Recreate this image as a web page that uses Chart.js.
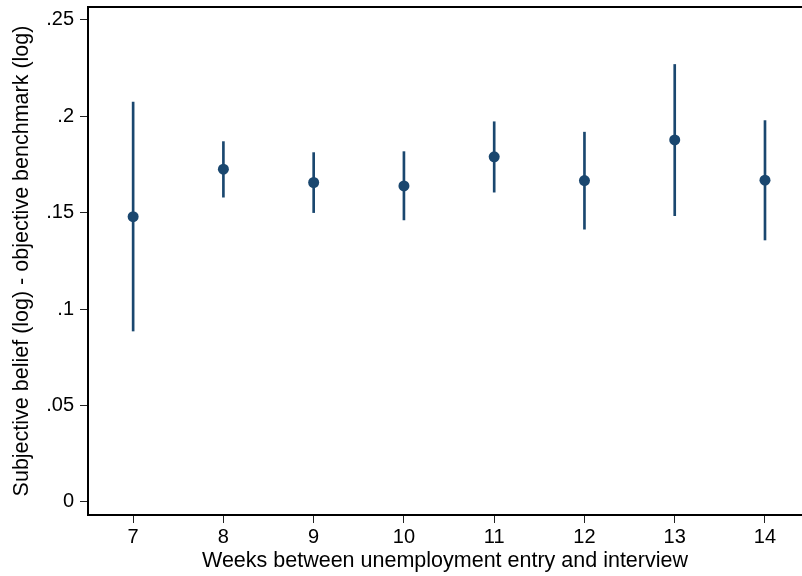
<!DOCTYPE html>
<html>
<head>
<meta charset="utf-8">
<script src="https://cdn.jsdelivr.net/npm/chart.js@4"></script>
<style>
  html, body { margin: 0; padding: 0; background: #fff; }
  #wrap { width: 802px; height: 576px; }
</style>
</head>
<body>
<div id="wrap"><canvas id="c" width="802" height="576"></canvas></div>
<script>
// weeks since unemployment entry
var weeks = [7, 8, 9, 10, 11, 12, 13, 14];
// point estimates and 95% CI bounds
var est = [0.1479, 0.1725, 0.1656, 0.1638, 0.1789, 0.1666, 0.1877, 0.1668];
var ciLow = [0.0886, 0.1580, 0.1500, 0.1462, 0.1606, 0.1414, 0.1484, 0.1358];
var ciHigh = [0.2073, 0.1868, 0.1811, 0.1816, 0.1971, 0.1917, 0.2268, 0.1977];
var yTicks = [0, 0.05, 0.1, 0.15, 0.2, 0.25];

var navy = '#1a476f';
var family = '"Liberation Sans", Arial, sans-serif';
var tickFont = { family: family, size: 20 };
var titleFont = { family: family, size: 21.5 };

// stata style labels: .25 instead of 0.25
function fmt(v) {
  if (v === 0) return '0';
  return String(+v.toFixed(2)).replace(/^0/, '');
}

var ciData = weeks.map(function(w, i) { return { x: w, y: [ciLow[i], ciHigh[i]] }; });
var ptData = weeks.map(function(w, i) { return { x: w, y: est[i] }; });

new Chart(document.getElementById('c'), {
  data: {
    datasets: [{
      type: 'scatter',
      data: ptData,
      backgroundColor: navy,
      borderColor: navy,
      pointRadius: 5.5,
      pointHoverRadius: 5.5,
      borderWidth: 0,
      order: 0
    }, {
      type: 'bar',
      data: ciData,
      backgroundColor: navy,
      borderWidth: 0,
      barThickness: 2,
      order: 1
    }]
  },
  options: {
    responsive: false,
    animation: false,
    layout: { autoPadding: false, padding: { top: 7, right: 0, left: 0, bottom: 0 } },
    plugins: { legend: { display: false }, tooltip: { enabled: false } },
    scales: {
      x: {
        type: 'linear',
        position: 'bottom',
        offset: false,
        min: 6.5,
        max: 14.41,
        afterBuildTicks: function(axis) { axis.ticks = weeks.map(function(v) { return { value: v }; }); },
        afterFit: function(s) { s.height = 61; s.paddingLeft = 0; s.paddingRight = 0; },
        grid: { offset: false, drawOnChartArea: false, tickLength: 8, tickColor: '#222', lineWidth: 1 },
        border: { display: true, color: '#000', width: 2 },
        ticks: { color: '#000', font: tickFont, padding: 2, maxRotation: 0 },
        title: { display: true, text: 'Weeks between unemployment entry and interview', color: '#000', font: titleFont, padding: { top: 0, bottom: 2 } }
      },
      xTop: {
        type: 'linear',
        position: 'top',
        offset: false,
        min: 6.5,
        max: 14.41,
        afterFit: function(s) { s.height = 0; s.paddingLeft = 0; s.paddingRight = 0; },
        grid: { offset: false, drawOnChartArea: false, drawTicks: false },
        border: { display: true, color: '#000', width: 2 },
        ticks: { display: false }
      },
      y: {
        min: -0.0068,
        max: 0.2566,
        afterBuildTicks: function(axis) { axis.ticks = yTicks.map(function(v) { return { value: v }; }); },
        afterFit: function(s) { s.width = 88; s.paddingTop = 0; s.paddingBottom = 0; },
        grid: { drawOnChartArea: false, tickLength: 8, tickColor: '#222', lineWidth: 1 },
        border: { display: true, color: '#000', width: 2 },
        ticks: { color: '#000', font: tickFont, padding: 6, callback: function(v) { return fmt(v); } },
        title: { display: true, text: 'Subjective belief (log) - objective benchmark (log)', color: '#000', font: titleFont, padding: { top: 9, bottom: 0 } }
      }
    }
  }
});
</script>
</body>
</html>
